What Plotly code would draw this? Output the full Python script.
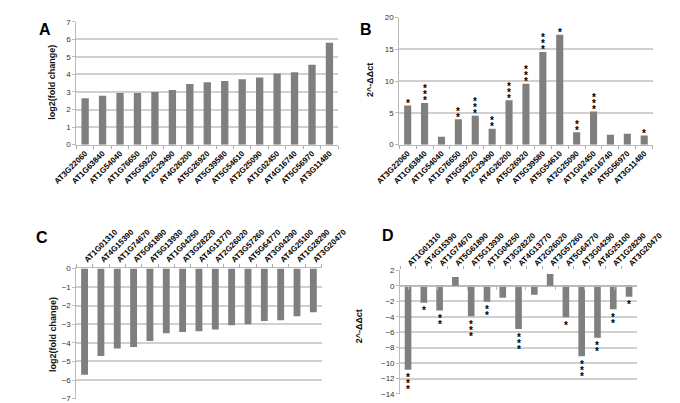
import plotly.graph_objects as go

genes_up = ["AT3G22060", "AT1G63840", "AT1G54040", "AT1G76650", "AT5G59220",
            "AT2G29490", "AT4G26200", "AT5G26920", "AT5G39580", "AT5G54610",
            "AT2G25090", "AT1G02450", "AT4G16740", "AT5G56970", "AT3G11480"]
log2_up = [2.65, 2.78, 2.95, 2.95, 3.0, 3.12, 3.45, 3.55, 3.62, 3.72, 3.82, 4.05, 4.12, 4.55, 5.8]
ddct_up = [6.15, 6.56, 1.23, 4.0, 4.56, 2.5, 7.0, 9.6, 14.6, 17.3, 1.95, 5.2, 1.55, 1.7, 1.45]
stars_up = [1, 3, 0, 2, 3, 2, 3, 3, 3, 1, 2, 3, 0, 0, 1]

genes_down = ["AT1G01310", "AT4G15390", "AT1G74670", "AT5G61890", "AT5G13930",
              "AT1G04250", "AT3G28220", "AT4G13770", "AT2G26020", "AT3G57260",
              "AT5G64770", "AT3G04290", "AT4G25100", "AT1G28290", "AT3G20470"]
log2_down = [-5.72, -4.7, -4.3, -4.22, -3.9, -3.48, -3.42, -3.37, -3.28, -3.05, -3.0, -2.82, -2.78, -2.57, -2.35]
ddct_down = [-10.87, -2.2, -3.2, 1.16, -3.94, -2.07, -1.54, -5.6, -1.16, 1.54, -4.07, -9.13, -6.72, -3.03, -1.41]
stars_down = [3, 1, 2, 0, 3, 2, 0, 3, 0, 0, 1, 3, 2, 2, 1]

W, H = 680, 403
BAR = "#7f7f7f"
GRID = "#d0d0d0"
FONT = "Liberation Sans"

def px(x0, x1):
    return [x0 / W, x1 / W]

def py(top, bottom):
    return [1 - bottom / H, 1 - top / H]

fig = go.Figure()

panels = [
    (genes_up, log2_up, "x", "y", px(48, 331), py(10, 135.7), [0, 7], 1, "bottom"),
    (genes_up, ddct_up, "x2", "y2", px(397, 671), py(5.7, 135.7), [0, 20], 5, "bottom"),
    (genes_down, log2_down, "x3", "y3", px(48, 313), py(262.3, 395.5), [-7, 0], 1, "top"),
    (genes_down, ddct_down, "x4", "y4", px(398, 654), py(264.3, 390.7), [-14, 2], 2, "top"),
]

for i, (g, v, xa, ya, xd, yd, yr, dt, side) in enumerate(panels):
    fig.add_trace(go.Bar(x=g, y=v, xaxis=xa, yaxis=ya, marker=dict(color=BAR, line=dict(width=0)),
                         width=0.42, showlegend=False))
    sfx = "" if i == 0 else str(i + 1)
    fig.layout["xaxis" + sfx] = dict(
        domain=xd, anchor=ya, side=side, type="category",
        tickangle=-45, tickfont=dict(family=FONT, size=8, color="#000", weight="bold"),
        ticks="outside", tickson="boundaries", ticklen=3, tickcolor="#aaa",
        showline=(i != 3), linecolor="#bbb", linewidth=1, showgrid=False,
        zeroline=False, fixedrange=True,
    )
    fig.layout["yaxis" + sfx] = dict(
        domain=yd, anchor=xa, range=yr, dtick=dt, tick0=0,
        tickfont=dict(family=FONT, size=8, color="#333"),
        showgrid=True, gridcolor=GRID, gridwidth=1.5,
        showline=True, linecolor="#bbb", linewidth=1,
        ticks="outside", ticklen=3, tickcolor="#bbb",
        zeroline=(i == 3), zerolinecolor="#bbb", zerolinewidth=1, fixedrange=True,
    )

# extra axis to draw the zero line tick marks in panel D
fig.layout["xaxis5"] = dict(
    overlaying="x4", anchor="free", position=1 - (264.3 + 2 * (126.4 / 16)) / H,
    domain=px(398, 654), type="category", showticklabels=False,
    ticks="outside", tickson="boundaries", ticklen=3, tickcolor="#bbb",
    showline=True, linecolor="#bbb", showgrid=False, zeroline=False,
    categoryorder="array", categoryarray=genes_down,
)
fig.add_trace(go.Scatter(x=genes_down, y=[0] * len(genes_down), xaxis="x5", yaxis="y4",
                         mode="markers", marker=dict(opacity=0), showlegend=False, hoverinfo="skip"))

annotations = []
for g, v, n, xr, yr in [(genes_up, ddct_up, stars_up, "x2", "y2"),
                        (genes_down, ddct_down, stars_down, "x4", "y4")]:
    for gi, vi, ni in zip(g, v, n):
        for k in range(ni):
            off = 5 + 6 * k
            sign = 1 if vi >= 0 else -1
            annotations.append(dict(x=gi, y=vi, xref=xr, yref=yr, text="*", showarrow=False,
                                    font=dict(family=FONT, size=10, color="#000", weight="bold"),
                                    yanchor="middle", yshift=sign * off - 3))

for letter, x, y in [("A", 14, 18), ("B", 361, 18), ("C", 11, 231), ("D", 384.5, 229)]:
    annotations.append(dict(x=x / W, y=1 - y / H, xref="paper", yref="paper", text="<b>%s</b>" % letter,
                            showarrow=False, font=dict(family=FONT, size=16, color="#000"),
                            xanchor="center", yanchor="middle"))

for t, x, y in [("log2(fold change)", 22, 72), ("2^-ΔΔct", 366, 70),
                ("log2(fold change)", 22, 330), ("2^-ΔΔct", 353, 322)]:
    annotations.append(dict(x=x / W, y=1 - y / H, xref="paper", yref="paper", text="<b>%s</b>" % t,
                            showarrow=False, textangle=-90, font=dict(family=FONT, size=9, color="#111"),
                            xanchor="center", yanchor="middle"))

fig.update_layout(
    width=W, height=H, margin=dict(l=0, r=0, t=0, b=0),
    paper_bgcolor="white", plot_bgcolor="white",
    annotations=annotations, bargap=0.58,
)

fig.write_html("out.html")
